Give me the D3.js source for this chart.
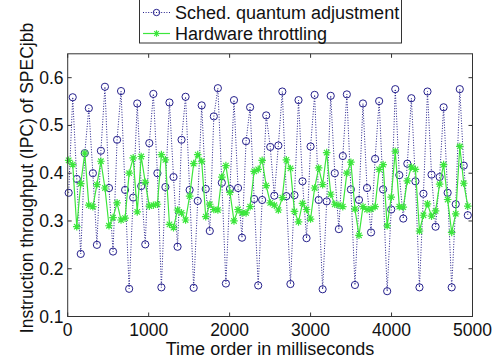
<!DOCTYPE html>
<html>
<head>
<meta charset="utf-8">
<script src="https://cdn.jsdelivr.net/npm/d3@7/dist/d3.min.js"></script>
<style>
  body { margin: 0; background: #fff; }
  svg text { font-family: "Liberation Sans", Arial, Helvetica, sans-serif; fill: #111; }
</style>
</head>
<body>
<script>
// sample times (ms) - one sample roughly every 50 ms
const times = [12, 62, 112, 161, 211, 261, 311, 361, 410, 460, 510, 560, 610, 659, 709, 759, 809, 859, 908, 958,
  1008, 1058, 1108, 1157, 1207, 1257, 1307, 1357, 1406, 1456, 1506, 1556, 1606, 1655, 1705, 1755, 1805, 1855, 1904, 1954,
  2004, 2054, 2104, 2153, 2203, 2253, 2303, 2353, 2402, 2452, 2502, 2552, 2602, 2651, 2701, 2751, 2801, 2851, 2900, 2950,
  3000, 3050, 3100, 3149, 3199, 3249, 3299, 3349, 3398, 3448, 3498, 3548, 3598, 3647, 3697, 3747, 3797, 3847, 3896, 3946,
  3996, 4046, 4096, 4145, 4195, 4245, 4295, 4345, 4394, 4444, 4494, 4544, 4594, 4643, 4693, 4743, 4793, 4843, 4892, 4942];

const schedQuantum = [0.359, 0.559, 0.388, 0.231, 0.442, 0.536, 0.400, 0.250, 0.447, 0.581,
  0.369, 0.236, 0.470, 0.572, 0.365, 0.158, 0.349, 0.546, 0.373, 0.251,
  0.463, 0.566, 0.400, 0.161, 0.371, 0.548, 0.392, 0.246, 0.470, 0.560,
  0.365, 0.160, 0.342, 0.542, 0.367, 0.279, 0.519, 0.578, 0.380, 0.169,
  0.367, 0.553, 0.369, 0.265, 0.467, 0.538, 0.346, 0.165, 0.344, 0.521,
  0.455, 0.353, 0.458, 0.571, 0.352, 0.168, 0.354, 0.553, 0.383, 0.264,
  0.456, 0.564, 0.344, 0.157, 0.341, 0.562, 0.400, 0.283, 0.436, 0.565,
  0.366, 0.166, 0.344, 0.546, 0.369, 0.276, 0.430, 0.551, 0.366, 0.153,
  0.324, 0.576, 0.396, 0.305, 0.420, 0.557, 0.383, 0.161, 0.357, 0.571,
  0.397, 0.288, 0.392, 0.538, 0.359, 0.161, 0.335, 0.576, 0.416, 0.312];

const hwThrottling = [0.427, 0.418, 0.288, 0.378, 0.442, 0.333, 0.330, 0.376, 0.425, 0.369,
  0.290, 0.307, 0.338, 0.302, 0.306, 0.400, 0.432, 0.319, 0.435, 0.381,
  0.331, 0.333, 0.335, 0.439, 0.428, 0.293, 0.286, 0.323, 0.317, 0.302,
  0.352, 0.420, 0.439, 0.425, 0.309, 0.335, 0.324, 0.323, 0.392, 0.416,
  0.360, 0.300, 0.324, 0.317, 0.317, 0.330, 0.404, 0.408, 0.427, 0.374,
  0.338, 0.333, 0.323, 0.349, 0.428, 0.410, 0.320, 0.298, 0.337, 0.324,
  0.304, 0.369, 0.411, 0.376, 0.443, 0.356, 0.335, 0.333, 0.330, 0.400,
  0.423, 0.325, 0.270, 0.330, 0.324, 0.325, 0.330, 0.408, 0.418, 0.290,
  0.350, 0.446, 0.330, 0.329, 0.384, 0.413, 0.408, 0.279, 0.312, 0.336,
  0.310, 0.321, 0.377, 0.418, 0.345, 0.276, 0.315, 0.456, 0.379, 0.331];

const xTicks = [0, 1000, 2000, 3000, 4000, 5000];
const yTicks = [0.1, 0.2, 0.3, 0.4, 0.5, 0.6];
const seriesNames = ["Sched. quantum adjustment", "Hardware throttling"];

const width = 499, height = 362;
const blue = "#25208c", green = "#3ce63c";

let svg = d3.select("body").append("svg")
  .attr("width", width)
  .attr("height", height);

svg.append("rect").attr("width", width).attr("height", height).attr("fill", "#fff");

let x = d3.scaleLinear().domain([0, 5000]).range([67.7, 472.5]);
let y = d3.scaleLinear().domain([0.1, 0.65]).range([316.5, 53.8]);

let plot = svg.append("g");

// matlab style ticks: inward, on all four sides
const tl = 4;
xTicks.forEach(t => {
  plot.append("line").attr("x1", x(t)).attr("x2", x(t)).attr("y1", y.range()[0]).attr("y2", y.range()[0] - tl)
    .attr("stroke", "#333");
  plot.append("line").attr("x1", x(t)).attr("x2", x(t)).attr("y1", y.range()[1]).attr("y2", y.range()[1] + tl)
    .attr("stroke", "#333");
  svg.append("text").attr("x", x(t)).attr("y", 336)
    .attr("text-anchor", "middle").style("font-size", "17.5px").text(t);
});
yTicks.forEach(t => {
  plot.append("line").attr("x1", x.range()[0]).attr("x2", x.range()[0] + tl).attr("y1", y(t)).attr("y2", y(t))
    .attr("stroke", "#333");
  plot.append("line").attr("x1", x.range()[1]).attr("x2", x.range()[1] - tl).attr("y1", y(t)).attr("y2", y(t))
    .attr("stroke", "#333");
  svg.append("text").attr("x", 63.5).attr("y", y(t) + 6)
    .attr("text-anchor", "end").style("font-size", "17.5px").text(t.toFixed(1));
});

let blueData = times.map((t, i) => ({ t: t, v: schedQuantum[i] }));
let greenData = times.map((t, i) => ({ t: t, v: hwThrottling[i] }));

let line = d3.line().x(d => x(d.t)).y(d => y(d.v));

plot.append("path").datum(blueData)
  .attr("d", line)
  .attr("fill", "none")
  .attr("stroke", blue)
  .attr("stroke-width", 1)
  .attr("stroke-dasharray", "1,1.6");

plot.selectAll(".circ")
  .data(blueData)
  .join("circle")
  .attr("class", "circ")
  .attr("cx", d => x(d.t))
  .attr("cy", d => y(d.v))
  .attr("r", 3.6)
  .attr("fill", "none")
  .attr("stroke", blue)
  .attr("stroke-width", 1);

plot.append("path").datum(greenData)
  .attr("d", line)
  .attr("fill", "none")
  .attr("stroke", green)
  .attr("stroke-width", 1.2);

function star(cx, cy, r) {
  let d = r * 0.72;
  return `M${cx - r},${cy}L${cx + r},${cy}M${cx},${cy - r}L${cx},${cy + r}` +
    `M${cx - d},${cy - d}L${cx + d},${cy + d}M${cx - d},${cy + d}L${cx + d},${cy - d}`;
}

plot.selectAll(".star")
  .data(greenData)
  .join("path")
  .attr("class", "star")
  .attr("d", d => star(x(d.t), y(d.v), 3.8))
  .attr("stroke", green)
  .attr("stroke-width", 1.2)
  .attr("fill", "none");

// axes box
plot.append("rect")
  .attr("x", x.range()[0]).attr("y", y.range()[1])
  .attr("width", x.range()[1] - x.range()[0])
  .attr("height", y.range()[0] - y.range()[1])
  .attr("fill", "none")
  .attr("stroke", "#333")
  .attr("stroke-width", 1);

// legend
let legend = svg.append("g");
legend.append("rect")
  .attr("x", 139.5).attr("y", -2)
  .attr("width", 262).attr("height", 45)
  .attr("fill", "#fff").attr("stroke", "#333");

legend.append("line").attr("x1", 143).attr("x2", 170).attr("y1", 12.5).attr("y2", 12.5)
  .attr("stroke", blue).attr("stroke-dasharray", "1,1.6");
legend.append("circle").attr("cx", 156.5).attr("cy", 12.5).attr("r", 3.2)
  .attr("fill", "none").attr("stroke", blue);
legend.append("text").attr("x", 175).attr("y", 18.5).style("font-size", "18px").text(seriesNames[0]);

legend.append("line").attr("x1", 143).attr("x2", 170).attr("y1", 33.5).attr("y2", 33.5)
  .attr("stroke", green).attr("stroke-width", 1.2);
legend.append("path").attr("d", star(156.5, 33.5, 3.2))
  .attr("stroke", green).attr("stroke-width", 1.2);
legend.append("text").attr("x", 175).attr("y", 39.5).style("font-size", "18px").text(seriesNames[1]);

// axis labels
svg.append("text")
  .attr("x", 270).attr("y", 355)
  .attr("text-anchor", "middle").style("font-size", "18px")
  .text("Time order in milliseconds");

svg.append("text")
  .attr("transform", "translate(33,178) rotate(-90)")
  .attr("text-anchor", "middle").style("font-size", "17.5px")
  .text("Instruction throughput (IPC) of SPECjbb");
</script>
</body>
</html>
